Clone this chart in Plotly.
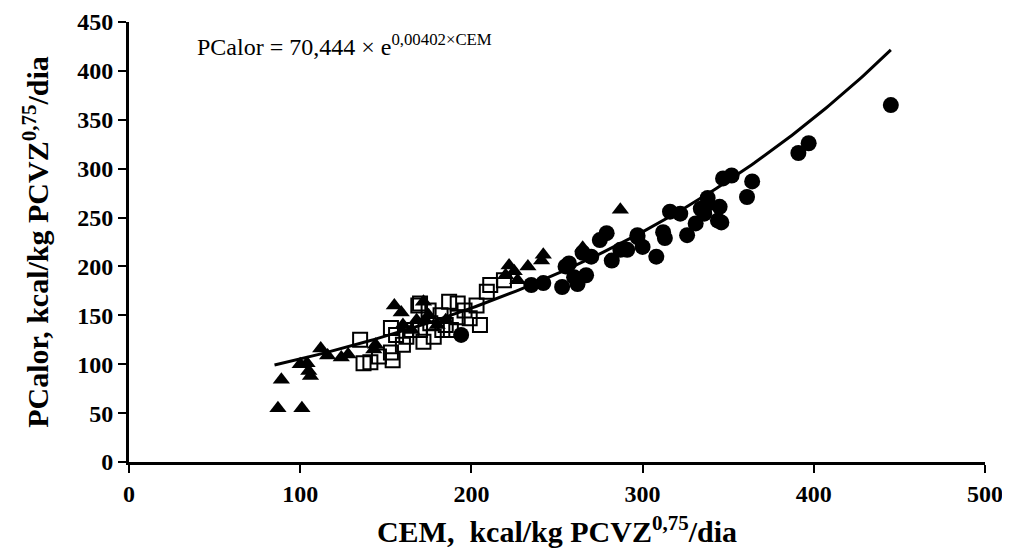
import numpy as np
import plotly.graph_objects as go

# Data
tri_x = [87, 101, 89, 106, 105, 100, 104, 112, 116, 124, 128, 143, 144, 155, 159, 160, 165, 168, 172, 173, 175, 180, 185, 220, 222, 227, 233, 241, 242, 265, 287, 225]
tri_y = [55, 55, 84, 88, 93, 100, 101, 116, 109, 107, 110, 115, 120, 160, 153, 140, 135, 145, 164, 145, 150, 140, 145, 191, 201, 186, 200, 206, 212, 219, 258, 195]

sq_x = [135, 137, 141, 146, 154, 153, 153, 156, 160, 162, 165, 169, 170, 170, 172, 176, 178, 182, 183, 187, 188, 192, 192, 199, 203, 205, 209, 211, 219, 196, 185, 175]
sq_y = [125, 101, 102, 108, 104, 112, 137, 130, 120, 128, 135, 160, 162, 135, 123, 142, 128, 150, 135, 164, 135, 162, 148, 147, 160, 140, 174, 181, 186, 155, 140, 155]

ci_x = [194, 235, 242, 253, 255, 257, 260, 262, 265, 267, 270, 275, 279, 282, 287, 291, 297, 297, 300, 308, 312, 313, 316, 322, 326, 331, 334, 336, 338, 338, 344, 345, 346, 347, 352, 361, 364, 391, 397, 445]
ci_y = [130, 181, 183, 179, 200, 203, 189, 182, 214, 191, 210, 227, 234, 206, 217, 217, 230, 232, 220, 210, 235, 229, 256, 254, 232, 244, 259, 254, 264, 270, 247, 261, 245, 290, 293, 271, 287, 316, 326, 365]

fit_a = 70.444
fit_b = 0.00402
fit_range = [85, 445]

x_ticks = [0, 100, 200, 300, 400, 500]
y_ticks = [0, 50, 100, 150, 200, 250, 300, 350, 400, 450]

fx = np.linspace(fit_range[0], fit_range[1], 200)
fy = fit_a * np.exp(fit_b * fx)

fig = go.Figure()
fig.add_trace(go.Scatter(x=sq_x, y=sq_y, mode="markers",
                         marker=dict(symbol="square-open", size=14, color="black", line=dict(width=2, color="black"))))
fig.add_trace(go.Scatter(x=tri_x, y=tri_y, mode="markers",
                         marker=dict(symbol="triangle-up", size=15, color="black", line=dict(width=0))))
fig.add_trace(go.Scatter(x=ci_x, y=ci_y, mode="markers",
                         marker=dict(symbol="circle", size=16, color="black", line=dict(width=0))))
fig.add_trace(go.Scatter(x=fx, y=fy, mode="lines", line=dict(color="black", width=3)))

font_family = "Liberation Serif"

# page body has an 8px margin; compensate so plot area lands at x 129..985, y 22..462
W, H = 1002, 548
ML, MR, MT, MB = 121, 25, 14, 94

fig.update_layout(
    width=W, height=H,
    margin=dict(l=ML, r=MR, t=MT, b=MB),
    plot_bgcolor="white", paper_bgcolor="white",
    showlegend=False,
    font=dict(family=font_family, color="black"),
    xaxis=dict(range=[0, 500], tickvals=x_ticks, ticktext=["<b>%d</b>" % v for v in x_ticks],
               showgrid=False, zeroline=False, automargin=False,
               showline=True, linecolor="black", linewidth=3,
               ticks="outside", ticklen=8, tickwidth=2, tickcolor="black",
               tickfont=dict(family=font_family, size=24, color="black", weight=900),
               title=dict(text="<b>CEM,  kcal/kg PCVZ<sup>0,75</sup>/dia</b>", standoff=16,
                          font=dict(family=font_family, size=30, color="black"))),
    yaxis=dict(range=[0, 450], tickvals=y_ticks, ticktext=["<b>%d</b>" % v for v in y_ticks],
               showgrid=False, zeroline=False, automargin=False,
               showline=True, linecolor="black", linewidth=3,
               ticks="outside", ticklen=8, tickwidth=2, tickcolor="black",
               tickfont=dict(family=font_family, size=24, color="black", weight=900),
               title=dict(text="<b>PCalor, kcal/kg PCVZ<sup>0,75</sup>/dia</b>", standoff=20,
                          font=dict(family=font_family, size=30, color="black"))),
)
pw = W - ML - MR
ph = H - MT - MB
fig.add_annotation(x=(195 - 8 - ML) / pw, y=(H - MB - (45 - 8)) / ph, xref="paper", yref="paper",
                   xanchor="left", yanchor="middle", showarrow=False,
                   text="PCalor = 70,444 × e<sup>0,00402×CEM</sup>",
                   font=dict(family=font_family, size=24, color="black"))

fig.write_html("out.html")
